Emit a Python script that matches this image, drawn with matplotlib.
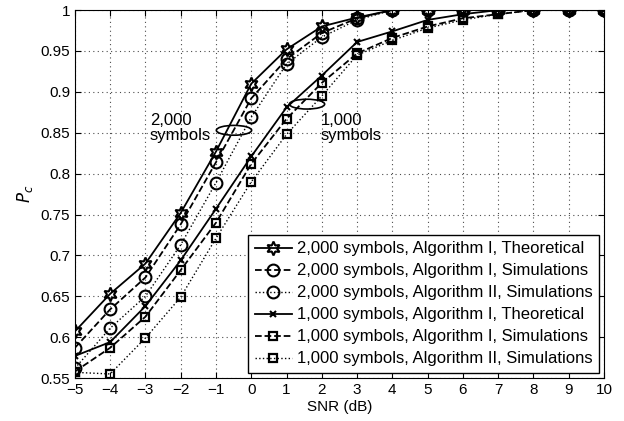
import numpy as np
import matplotlib.pyplot as plt
from matplotlib.patches import Ellipse

plt.rcParams['font.family'] = ['Liberation Sans', 'DejaVu Sans']

snr = [-5, -4, -3, -2, -1, 0, 1, 2, 3, 4, 5, 6, 7, 8, 9, 10]

# 2,000 symbols
p2k_alg1_theo = [0.607, 0.653, 0.690, 0.752, 0.827, 0.910, 0.952, 0.980, 0.991, 1.0, 1.0, 1.0, 1.0, 1.0, 1.0, 1.0]
p2k_alg1_sim = [0.587, 0.634, 0.673, 0.738, 0.814, 0.892, 0.940, 0.972, 0.990, 1.0, 1.0, 1.0, 1.0, 1.0, 1.0, 1.0]
p2k_alg2_sim = [0.562, 0.611, 0.650, 0.713, 0.789, 0.869, 0.934, 0.967, 0.988, 1.0, 1.0, 1.0, 1.0, 1.0, 1.0, 1.0]
# 1,000 symbols
p1k_alg1_theo = [0.577, 0.594, 0.638, 0.694, 0.757, 0.821, 0.881, 0.920, 0.961, 0.974, 0.988, 0.995, 1.0, 1.0, 1.0, 1.0]
p1k_alg1_sim = [0.558, 0.587, 0.625, 0.682, 0.740, 0.812, 0.867, 0.911, 0.947, 0.966, 0.980, 0.990, 0.995, 1.0, 1.0, 1.0]
p1k_alg2_sim = [0.557, 0.555, 0.599, 0.649, 0.721, 0.790, 0.848, 0.895, 0.945, 0.963, 0.978, 0.988, 0.995, 1.0, 1.0, 1.0]

labels = ['2,000 symbols, Algorithm I, Theoretical',
          '2,000 symbols, Algorithm I, Simulations',
          '2,000 symbols, Algorithm II, Simulations',
          '1,000 symbols, Algorithm I, Theoretical',
          '1,000 symbols, Algorithm I, Simulations',
          '1,000 symbols, Algorithm II, Simulations']

fig = plt.figure(figsize=(6.24, 4.21), dpi=100)
ax = fig.add_axes([0.12, 0.102, 0.848, 0.874])

hexa = (6, 1, 0)
ax.plot(snr, p2k_alg1_theo, '-', color='k', lw=1.3, marker=hexa, ms=10, mfc='none', mew=1.5, label=labels[0])
ax.plot(snr, p2k_alg1_sim, '--', color='k', lw=1.3, marker='o', ms=8.5, mfc='none', mew=1.5, label=labels[1])
ax.plot(snr, p2k_alg2_sim, ':', color='k', lw=1.0, marker='o', ms=8.5, mfc='none', mew=1.5, label=labels[2])
ax.plot(snr, p1k_alg1_theo, '-', color='k', lw=1.3, marker='x', ms=5, mew=1.5, label=labels[3])
ax.plot(snr, p1k_alg1_sim, '--', color='k', lw=1.3, marker='s', ms=6, mfc='none', mew=1.6, label=labels[4])
ax.plot(snr, p1k_alg2_sim, ':', color='k', lw=1.0, marker='s', ms=6, mfc='none', mew=1.6, label=labels[5])

ax.add_patch(Ellipse((-0.49, 0.853), 1.0, 0.012, fill=False, color='k', lw=1.2))
ax.add_patch(Ellipse((1.58, 0.885), 1.0, 0.012, fill=False, color='k', lw=1.2))
ax.text(-2.87, 0.874, '2,000\nsymbols', fontsize=12, va='top', ha='left', linespacing=1.0)
ax.text(1.97, 0.874, '1,000\nsymbols', fontsize=12, va='top', ha='left', linespacing=1.0)

ax.set_xlim(-5, 10)
ax.set_ylim(0.55, 1.0)
ax.set_xticks(range(-5, 11))
ax.set_xticklabels(['\u2212%d' % -v if v < 0 else str(v) for v in range(-5, 11)])
ax.set_yticks(np.arange(0.55, 1.001, 0.05))
ax.set_yticklabels(['0.55', '0.6', '0.65', '0.7', '0.75', '0.8', '0.85', '0.9', '0.95', '1'])
ax.tick_params(direction='in', top=True, right=True, labelsize=11, length=4)
ax.grid(True, linestyle=(0, (1, 3)), color='k', lw=0.8, alpha=0.7)
ax.set_xlabel('SNR (dB)', fontsize=11, labelpad=2)
ax.set_ylabel('$P_c$', fontsize=12)

leg = ax.legend(loc='lower right', fontsize=12, handlelength=2.2, fancybox=False,
                edgecolor='k', framealpha=1, borderaxespad=0.3, labelspacing=0.42,
                handletextpad=0.3, borderpad=0.4)
leg.get_frame().set_linewidth(1.0)

fig.savefig('out.png', dpi=100)
